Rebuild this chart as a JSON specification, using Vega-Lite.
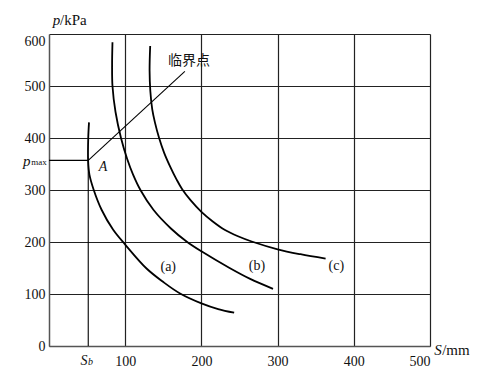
{
  "$schema": "https://vega.github.io/schema/vega-lite/v6.json",
  "width": 381,
  "height": 312,
  "autosize": {"type": "none"},
  "padding": {"left": 49, "top": 34, "right": 67, "bottom": 34},
  "background": "white",
  "config": {
    "view": {"stroke": null},
    "font": "Liberation Serif",
    "axis": {"labelFont": "Liberation Serif", "labelFontSize": 14, "labelColor": "#111", "ticks": false, "grid": true, "gridColor": "#222", "gridWidth": 1.2, "gridOpacity": 1, "domainColor": "#555", "domainWidth": 1.5, "title": null}
  },
  "datasets": {
    "curves": [
      {"curve": "a", "order": 1, "S": 52.5, "p": 430},
      {"curve": "a", "order": 2, "S": 51.5, "p": 400},
      {"curve": "a", "order": 3, "S": 51.3, "p": 357},
      {"curve": "a", "order": 4, "S": 53, "p": 330},
      {"curve": "a", "order": 5, "S": 58.5, "p": 301},
      {"curve": "a", "order": 6, "S": 69, "p": 262},
      {"curve": "a", "order": 7, "S": 84, "p": 224},
      {"curve": "a", "order": 8, "S": 100, "p": 195},
      {"curve": "a", "order": 9, "S": 128, "p": 149},
      {"curve": "a", "order": 10, "S": 150, "p": 123},
      {"curve": "a", "order": 11, "S": 172, "p": 101},
      {"curve": "a", "order": 12, "S": 200, "p": 82},
      {"curve": "a", "order": 13, "S": 222, "p": 71},
      {"curve": "a", "order": 14, "S": 243, "p": 64},
      {"curve": "b", "order": 1, "S": 83.3, "p": 584},
      {"curve": "b", "order": 2, "S": 82.8, "p": 540},
      {"curve": "b", "order": 3, "S": 83.3, "p": 500},
      {"curve": "b", "order": 4, "S": 87.3, "p": 450},
      {"curve": "b", "order": 5, "S": 94.5, "p": 400},
      {"curve": "b", "order": 6, "S": 102.5, "p": 360},
      {"curve": "b", "order": 7, "S": 110.2, "p": 330},
      {"curve": "b", "order": 8, "S": 120, "p": 300},
      {"curve": "b", "order": 9, "S": 137, "p": 262},
      {"curve": "b", "order": 10, "S": 160, "p": 226},
      {"curve": "b", "order": 11, "S": 180.5, "p": 201},
      {"curve": "b", "order": 12, "S": 200, "p": 182},
      {"curve": "b", "order": 13, "S": 237, "p": 150},
      {"curve": "b", "order": 14, "S": 264, "p": 129},
      {"curve": "b", "order": 15, "S": 294, "p": 110},
      {"curve": "c", "order": 1, "S": 132.8, "p": 577},
      {"curve": "c", "order": 2, "S": 132, "p": 530},
      {"curve": "c", "order": 3, "S": 133, "p": 490},
      {"curve": "c", "order": 4, "S": 135.5, "p": 455},
      {"curve": "c", "order": 5, "S": 139, "p": 430},
      {"curve": "c", "order": 6, "S": 144.5, "p": 400},
      {"curve": "c", "order": 7, "S": 151, "p": 372},
      {"curve": "c", "order": 8, "S": 159, "p": 345},
      {"curve": "c", "order": 9, "S": 167.5, "p": 320},
      {"curve": "c", "order": 10, "S": 175, "p": 301},
      {"curve": "c", "order": 11, "S": 186, "p": 280},
      {"curve": "c", "order": 12, "S": 200, "p": 258},
      {"curve": "c", "order": 13, "S": 214.5, "p": 240},
      {"curve": "c", "order": 14, "S": 231, "p": 223},
      {"curve": "c", "order": 15, "S": 248, "p": 211},
      {"curve": "c", "order": 16, "S": 266, "p": 201},
      {"curve": "c", "order": 17, "S": 300, "p": 186},
      {"curve": "c", "order": 18, "S": 330, "p": 176.5},
      {"curve": "c", "order": 19, "S": 363, "p": 168}
    ],
    "segments": [
      {"seg": "crit", "order": 1, "S": 51.5, "p": 357},
      {"seg": "crit", "order": 2, "S": 178.3, "p": 528},
      {"seg": "pmax", "order": 1, "S": 0, "p": 357},
      {"seg": "pmax", "order": 2, "S": 51.5, "p": 357},
      {"seg": "sb", "order": 1, "S": 51.5, "p": 0},
      {"seg": "sb", "order": 2, "S": 51.5, "p": 357}
    ]
  },
  "layer": [
    {
      "data": {"name": "curves"},
      "mark": {"type": "line", "interpolate": "catmull-rom", "color": "#000", "strokeWidth": 1.8, "clip": false},
      "encoding": {
        "x": {"field": "S", "type": "quantitative", "scale": {"domain": [0, 500], "nice": false, "zero": true},
              "axis": {"values": [100, 200, 300, 400, 500], "labelFont": "Liberation Serif", "labelFontSize": 14, "labelDx": -5, "labelPadding": 8, "labelFlush": false, "domain": true,
                       "labelAlign": {"condition": {"test": "datum.value == 500", "value": "right"}, "value": "center"}}},
        "y": {"field": "p", "type": "quantitative", "scale": {"domain": [0, 600], "nice": false},
              "axis": {"values": [0, 100, 200, 300, 400, 500, 600], "labelFont": "Liberation Serif", "labelFontSize": 14, "labelPadding": 4, "labelFlush": false,
                       "labelBaseline": {"condition": {"test": "datum.value == 600", "value": "top"}, "value": "middle"}}},
        "detail": {"field": "curve"},
        "order": {"field": "order"}
      }
    },
    {
      "data": {"name": "segments"},
      "mark": {"type": "line", "color": "#000", "strokeWidth": 1.1, "clip": false},
      "encoding": {
        "x": {"field": "S", "type": "quantitative"},
        "y": {"field": "p", "type": "quantitative"},
        "detail": {"field": "seg"},
        "order": {"field": "order"}
      }
    },
    {
      "data": {"values": [
        {"t": "(a)", "S": 156.5, "p": 152},
        {"t": "(b)", "S": 273, "p": 153},
        {"t": "(c)", "S": 377, "p": 153}
      ]},
      "mark": {"type": "text", "align": "center", "baseline": "middle", "font": "Liberation Serif", "fontSize": 14, "color": "#111", "clip": false},
      "encoding": {"x": {"field": "S", "type": "quantitative"}, "y": {"field": "p", "type": "quantitative"}, "text": {"field": "t"}}
    },
    {
      "data": {"values": [{"t": "临界点", "S": 183.6, "p": 549}]},
      "mark": {"type": "text", "align": "center", "baseline": "middle", "font": "Noto Sans CJK SC", "fontSize": 14, "color": "#111", "clip": false},
      "encoding": {"x": {"field": "S", "type": "quantitative"}, "y": {"field": "p", "type": "quantitative"}, "text": {"field": "t"}}
    },
    {
      "data": {"values": [
        {"t": "A", "S": 71, "p": 344, "size": 14},
        {"t": "S", "S": 46, "p": -28, "size": 14},
        {"t": "b", "S": 54.5, "p": -31, "size": 10}
      ]},
      "mark": {"type": "text", "align": "center", "baseline": "middle", "font": "Liberation Serif", "fontStyle": "italic", "color": "#111", "clip": false},
      "encoding": {"x": {"field": "S", "type": "quantitative"}, "y": {"field": "p", "type": "quantitative"}, "text": {"field": "t"},
                   "size": {"field": "size", "type": "quantitative", "scale": null}}
    },
    {
      "data": {"values": [
        {"t": "p", "S": 5, "p": 626},
        {"t": "S", "S": 505.5, "p": -7.5}
      ]},
      "mark": {"type": "text", "align": "left", "baseline": "middle", "font": "Liberation Serif", "fontStyle": "italic", "fontSize": 15, "color": "#111", "clip": false},
      "encoding": {"x": {"field": "S", "type": "quantitative"}, "y": {"field": "p", "type": "quantitative"}, "text": {"field": "t"}}
    },
    {
      "data": {"values": [
        {"t": "/kPa", "S": 14.5, "p": 626},
        {"t": "/mm", "S": 516, "p": -7.5}
      ]},
      "mark": {"type": "text", "align": "left", "baseline": "middle", "font": "Liberation Serif", "fontSize": 15, "color": "#111", "clip": false},
      "encoding": {"x": {"field": "S", "type": "quantitative"}, "y": {"field": "p", "type": "quantitative"}, "text": {"field": "t"}}
    },
    {
      "data": {"values": [{"t": "p", "S": -24.4, "p": 356}]},
      "mark": {"type": "text", "align": "right", "baseline": "middle", "font": "Liberation Serif", "fontStyle": "italic", "fontSize": 15, "color": "#111", "clip": false},
      "encoding": {"x": {"field": "S", "type": "quantitative"}, "y": {"field": "p", "type": "quantitative"}, "text": {"field": "t"}}
    },
    {
      "data": {"values": [{"t": "max", "S": -3.1, "p": 354}]},
      "mark": {"type": "text", "align": "right", "baseline": "middle", "font": "Liberation Serif", "fontSize": 9, "color": "#111", "clip": false},
      "encoding": {"x": {"field": "S", "type": "quantitative"}, "y": {"field": "p", "type": "quantitative"}, "text": {"field": "t"}}
    }
  ]
}
